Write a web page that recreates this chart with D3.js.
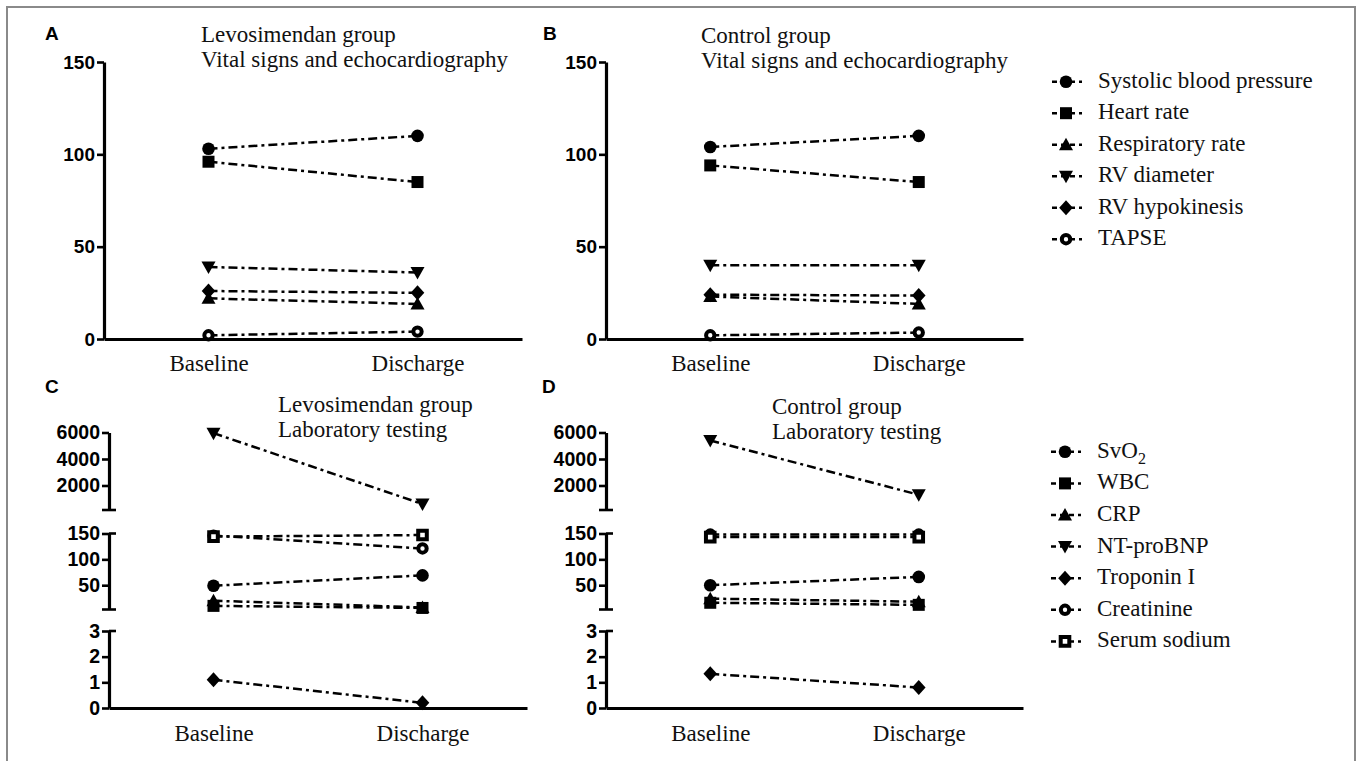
<!DOCTYPE html>
<html>
<head>
<meta charset="utf-8">
<script src="https://cdn.jsdelivr.net/npm/d3@7"></script>
<style>
	body { margin: 0; background: #fff; }
	svg { display: block; }
</style>
</head>
<body>
<div id="chart"></div>
<script>
// ---- data ----
var timepoints = ["Baseline", "Discharge"];

var vitalNames = ["Systolic blood pressure", "Heart rate", "Respiratory rate", "RV diameter", "RV hypokinesis", "TAPSE"];
var vitalSymbols = ["circle", "square", "triangle", "triangleDown", "diamond", "openCircle"];
var levoVitals = [[103, 110], [96, 85], [22, 19], [39, 36], [26, 25], [2, 4]];
var controlVitals = [[104, 110], [94, 85], [23, 19], [40, 40], [24, 23.5], [2, 3.5]];
var vitalTicks = [0, 50, 100, 150];

var labNames = ["SvO2", "WBC", "CRP", "NT-proBNP", "Troponin I", "Creatinine", "Serum sodium"];
var labSymbols = ["circle", "square", "triangle", "triangleDown", "diamond", "openCircle", "openSquare"];
var levoLabs = [[49, 69], [10, 6], [20, 7], [5950, 600], [1.1, 0.2], [146, 121], [144, 147]];
var controlLabs = [[50, 66], [16, 12], [24, 18], [5400, 1300], [1.33, 0.8], [148, 148], [143, 143]];
// which broken-axis segment each lab series sits on (0 = bottom, 1 = middle, 2 = top)
var labSegmentOf = [1, 1, 1, 2, 0, 1, 1];
var labDomains = [[0, 3], [3, 150], [150, 6000]];
var labTicks = [[0, 1, 2, 3], [50, 100, 150], [2000, 4000, 6000]];

// ---- layout ----
var width = 1360, height = 761;
var serif = "'Liberation Serif', 'Times New Roman', serif";
var sans = "'Liberation Sans', Arial, sans-serif";
var dash = "9,4,3,4";

var svg = d3.select("#chart").append("svg")
	.attr("width", width)
	.attr("height", height);

svg.append("rect")
	.attr("x", 7).attr("y", 7)
	.attr("width", 1348).attr("height", 770)
	.attr("fill", "none").attr("stroke", "#8a8a8a").attr("stroke-width", 2);

var shapes = {
	circle: d3.symbol(d3.symbolCircle, 125)(),
	square: "M-6,-6H6V6H-6Z",
	triangle: "M0,-7L7,5.5L-7,5.5Z",
	triangleDown: "M0,7L7,-5.5L-7,-5.5Z",
	diamond: "M0,-7.5L6.8,0L0,7.5L-6.8,0Z",
	openCircle: d3.symbol(d3.symbolCircle, 55)(),
	openSquare: "M-4.3,-4.3H4.3V4.3H-4.3Z"
};

function addMarker(g, type, x, y) {
	var open = type === "openCircle" || type === "openSquare";
	g.append("path")
		.attr("d", shapes[type])
		.attr("transform", "translate(" + x + "," + y + ")")
		.attr("fill", open ? "#fff" : "#000")
		.attr("stroke", open ? "#000" : "none")
		.attr("stroke-width", open ? 4 : 0);
}

function styleAxis(a, fontSize) {
	a.select(".domain").attr("stroke", "#000").attr("stroke-width", 3.2);
	a.selectAll(".tick line").attr("stroke", "#000").attr("stroke-width", 2.6);
	a.selectAll(".tick text")
		.attr("fill", "#000")
		.style("font-family", sans)
		.style("font-weight", "bold")
		.style("font-size", fontSize + "px");
}

function addTitle(lines, x, y) {
	svg.append("text")
		.attr("x", x).attr("y", y)
		.style("font-family", serif).style("font-size", "23px").attr("fill", "#111")
		.text(lines[0]);
	svg.append("text")
		.attr("x", x).attr("y", y + 25)
		.style("font-family", serif).style("font-size", "23px").attr("fill", "#111")
		.text(lines[1]);
}

function addLetter(letter, x, y) {
	svg.append("text")
		.attr("x", x).attr("y", y)
		.style("font-family", sans).style("font-weight", "bold").style("font-size", "19px")
		.text(letter);
}

function xAxis(axisX, xEnd, y0, pad) {
	var x = d3.scalePoint().domain(timepoints).range([axisX, xEnd]).padding(0.5);
	var a = svg.append("g")
		.attr("transform", "translate(0," + y0 + ")")
		.call(d3.axisBottom(x).tickSize(0).tickSizeOuter(0).tickPadding(pad));
	a.select(".domain").attr("stroke", "#000").attr("stroke-width", 3.2);
	a.selectAll(".tick text")
		.attr("fill", "#111")
		.style("font-family", serif)
		.style("font-size", "23px");
	return x;
}

// ---- vital signs panels (A, B) ----
function vitalPanel(values, axisX, xEnd) {
	var y = d3.scaleLinear().domain([0, 150]).range([339, 62]);
	var x = xAxis(axisX, xEnd, 339, 16);

	var ya = svg.append("g")
		.attr("transform", "translate(" + axisX + ",0)")
		.call(d3.axisLeft(y).tickValues(vitalTicks).tickFormat(d3.format("d"))
			.tickSize(7).tickSizeOuter(0).tickPadding(2));
	styleAxis(ya, 19);

	var g = svg.append("g");
	values.forEach(function (v) {
		g.append("line")
			.attr("x1", x(timepoints[0])).attr("y1", y(v[0]))
			.attr("x2", x(timepoints[1])).attr("y2", y(v[1]))
			.attr("stroke", "#000").attr("stroke-width", 2.5)
			.attr("stroke-dasharray", dash);
	});
	values.forEach(function (v, i) {
		addMarker(g, vitalSymbols[i], x(timepoints[0]), y(v[0]));
		addMarker(g, vitalSymbols[i], x(timepoints[1]), y(v[1]));
	});
}

// ---- laboratory panels (C, D) with broken y axis ----
var segRanges = [[708, 631], [609.5, 533.5], [510, 432.5]];

function labPanel(values, axisX, xEnd) {
	var scales = labDomains.map(function (d, i) {
		return d3.scaleLinear().domain(d).range(segRanges[i]);
	});
	var x = xAxis(axisX, xEnd, 708, 17);

	scales.forEach(function (s, i) {
		var a = svg.append("g")
			.attr("transform", "translate(" + axisX + ",0)")
			.call(d3.axisLeft(s).tickValues(labTicks[i]).tickFormat(d3.format("d"))
				.tickSize(7).tickSizeOuter(0).tickPadding(2));
		styleAxis(a, 19.5);
		// break caps
		var capG = svg.append("g").attr("stroke", "#000").attr("stroke-width", 2.6);
		if (i > 0) {
			capG.append("line")
				.attr("x1", axisX - 7).attr("x2", axisX + 7)
				.attr("y1", s(labDomains[i][0])).attr("y2", s(labDomains[i][0]));
		}
		if (i < 2) {
			capG.append("line")
				.attr("x1", axisX).attr("x2", axisX + 7)
				.attr("y1", s(labDomains[i][1])).attr("y2", s(labDomains[i][1]));
		}
	});

	var g = svg.append("g");
	values.forEach(function (v, i) {
		var s = scales[labSegmentOf[i]];
		g.append("line")
			.attr("x1", x(timepoints[0])).attr("y1", s(v[0]))
			.attr("x2", x(timepoints[1])).attr("y2", s(v[1]))
			.attr("stroke", "#000").attr("stroke-width", 2.5)
			.attr("stroke-dasharray", dash);
	});
	values.forEach(function (v, i) {
		var s = scales[labSegmentOf[i]];
		addMarker(g, labSymbols[i], x(timepoints[0]), s(v[0]));
		addMarker(g, labSymbols[i], x(timepoints[1]), s(v[1]));
	});
}

// ---- legends ----
function legend(names, symbols, mx, tx, y0, step) {
	var g = svg.append("g");
	names.forEach(function (name, i) {
		var cy = y0 + i * step;
		g.append("line")
			.attr("x1", mx - 14).attr("x2", mx + 16)
			.attr("y1", cy).attr("y2", cy)
			.attr("stroke", "#000").attr("stroke-width", 2.5)
			.attr("stroke-dasharray", "5,4");
		addMarker(g, symbols[i], mx, cy);
		var t = g.append("text")
			.attr("x", tx).attr("y", cy + 6)
			.attr("fill", "#111")
			.style("font-family", serif).style("font-size", "23px");
		if (name === "SvO2") {
			t.append("tspan").text("SvO");
			t.append("tspan").attr("dy", 6).style("font-size", "16px").text("2");
		} else {
			t.text(name);
		}
	});
}

addLetter("A", 45, 40);
addLetter("B", 543, 40);
addLetter("C", 45, 393);
addLetter("D", 542, 393);

addTitle(["Levosimendan group", "Vital signs and echocardiography"], 201, 42);
addTitle(["Control group", "Vital signs and echocardiography"], 701, 43);
addTitle(["Levosimendan group", "Laboratory testing"], 278, 412);
addTitle(["Control group", "Laboratory testing"], 772, 414);

vitalPanel(levoVitals, 104, 522);
vitalPanel(controlVitals, 606, 1023);
labPanel(levoLabs, 109, 527);
labPanel(controlLabs, 606, 1023);

legend(vitalNames, vitalSymbols, 1066, 1098, 81.7, 31.5);
legend(labNames, labSymbols, 1065, 1097, 451.8, 31.6);
</script>
</body>
</html>
